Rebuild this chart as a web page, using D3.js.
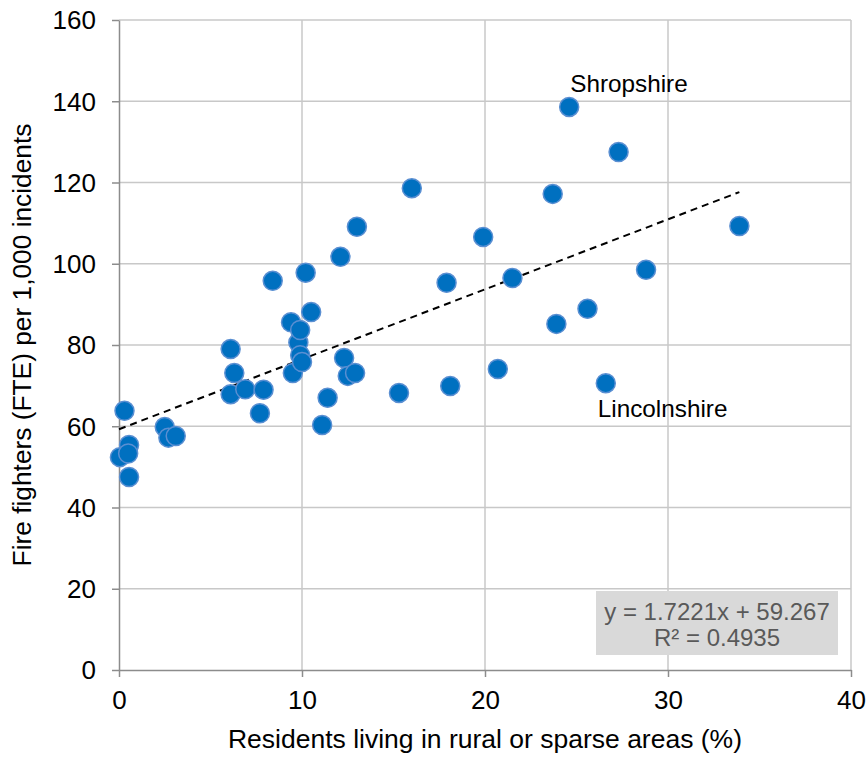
<!DOCTYPE html>
<meta charset="utf-8" />
<style>
  body { margin: 0; background: #fff; }
  text { font-family: "Liberation Sans", Arial, sans-serif; fill: #000; }
  .grid line { stroke: #c8c8c8; stroke-width: 1.5; }
  .axis path, .axis line { stroke: #8c8c8c; stroke-width: 1.5; }
  .trend { fill: none; stroke: #000; stroke-width: 2; stroke-dasharray: 7 5; }
  .dot { fill: #0070c0; stroke: #5a8fd2; stroke-width: 1.5; }
</style>
<body>
  <div id="chart"></div>
  <script src="https://cdn.jsdelivr.net/npm/d3@7"></script>
  <script>
    const width = 868;
    const height = 758;
    const margin = { top: 20, right: 17, bottom: 88, left: 119 };

    // % rural residents vs fire fighters per 1,000 incidents
    const rural = [0.3, 0.05, 0.55, 0.5, 0.55, 2.5, 2.7, 3.1, 6.1, 6.3, 6.1, 6.9, 7.9, 7.7, 8.4,
      9.4, 9.5, 9.8, 9.9, 9.9, 10.0, 10.2, 10.5, 12.1, 12.3, 12.5, 12.9, 13.0, 11.4, 11.1, 15.3,
      16.0, 17.9, 18.1, 19.9, 20.7, 21.5, 23.7, 23.9, 24.6, 25.6, 27.3, 26.6, 28.8, 33.9];
    const firefighters = [63.8, 52.4, 55.4, 53.3, 47.5, 59.8, 57.2, 57.6, 79.0, 73.1, 67.9, 69.1, 69.0, 63.2, 95.8,
      85.6, 73.1, 80.6, 83.7, 77.5, 75.8, 97.8, 88.1, 101.7, 76.8, 72.4, 73.1, 109.1, 67.0, 60.3, 68.2,
      118.6, 95.3, 69.9, 106.6, 74.1, 96.5, 117.2, 85.2, 138.6, 88.9, 127.5, 70.6, 98.5, 109.3];
    const xTicks = [0, 10, 20, 30, 40];
    const yTicks = [0, 20, 40, 60, 80, 100, 120, 140, 160];
    const slope = 1.7221;
    const intercept = 59.267;
    const r2 = 0.4935;
    const labels = [
      { name: "Shropshire", x: 24.6, y: 138.6 },
      { name: "Lincolnshire", x: 26.6, y: 70.6 },
    ];

    const points = rural.map((d, i) => ({ x: d, y: firefighters[i] }));

    const svg = d3.select("#chart").append("svg")
      .attr("width", width)
      .attr("height", height);

    const x = d3.scaleLinear().domain([0, 40]).range([margin.left, width - margin.right]);
    const y = d3.scaleLinear().domain([0, 160]).range([height - margin.bottom, margin.top]);

    // gridlines
    svg.append("g").attr("class", "grid")
      .selectAll("line.v").data(xTicks.slice(1)).enter().append("line")
      .attr("x1", d => x(d)).attr("x2", d => x(d))
      .attr("y1", y(0)).attr("y2", y(160));
    svg.select(".grid")
      .selectAll("line.h").data(yTicks.slice(1)).enter().append("line")
      .attr("x1", x(0)).attr("x2", x(40))
      .attr("y1", d => y(d)).attr("y2", d => y(d));

    // axes
    const xAxis = svg.append("g").attr("class", "axis")
      .attr("transform", `translate(0,${y(0)})`)
      .call(d3.axisBottom(x).tickValues(xTicks).tickSize(7).tickSizeOuter(0).tickPadding(14));
    const yAxis = svg.append("g").attr("class", "axis")
      .attr("transform", `translate(${x(0)},0)`)
      .call(d3.axisLeft(y).tickValues(yTicks).tickSize(7).tickSizeOuter(0).tickPadding(16));
    svg.selectAll(".axis text").style("font-size", "26px").attr("fill", "#000");
    yAxis.selectAll("text").attr("dy", "0.34em");
    xAxis.selectAll("text").attr("dy", "0.7em");

    // trend line
    const xMax = d3.max(rural);
    svg.append("line").attr("class", "trend")
      .attr("x1", x(0)).attr("y1", y(intercept))
      .attr("x2", x(xMax)).attr("y2", y(slope * xMax + intercept));

    // points
    svg.append("g").selectAll("circle").data(points).enter().append("circle")
      .attr("class", "dot")
      .attr("cx", d => x(d.x))
      .attr("cy", d => y(d.y))
      .attr("r", 9.5);

    // annotations
    svg.append("text").attr("x", x(labels[0].x) + 1).attr("y", y(labels[0].y) - 15)
      .style("font-size", "24.3px").text(labels[0].name);
    svg.append("text").attr("x", x(labels[1].x) - 8).attr("y", y(labels[1].y) + 34)
      .style("font-size", "24.3px").text(labels[1].name);

    // equation box
    svg.append("rect").attr("x", 596).attr("y", 591).attr("width", 242).attr("height", 64)
      .attr("fill", "#d9d9d9");
    const eq = svg.append("text").attr("text-anchor", "middle").style("font-size", "24px")
      .style("fill", "#595959");
    eq.append("tspan").attr("x", 717).attr("y", 620)
      .text(`y = ${slope}x + ${intercept}`);
    eq.append("tspan").attr("x", 717).attr("y", 646)
      .text(`R² = ${r2}`);

    // axis titles
    svg.append("text").attr("x", (x(0) + x(40)) / 2).attr("y", 748)
      .attr("text-anchor", "middle").style("font-size", "26.5px")
      .text("Residents living in rural or sparse areas (%)");
    svg.append("text")
      .attr("transform", `translate(31,${(y(0) + y(160)) / 2}) rotate(-90)`)
      .attr("text-anchor", "middle").style("font-size", "26.3px")
      .text("Fire fighters (FTE) per 1,000 incidents");
  </script>
</body>
